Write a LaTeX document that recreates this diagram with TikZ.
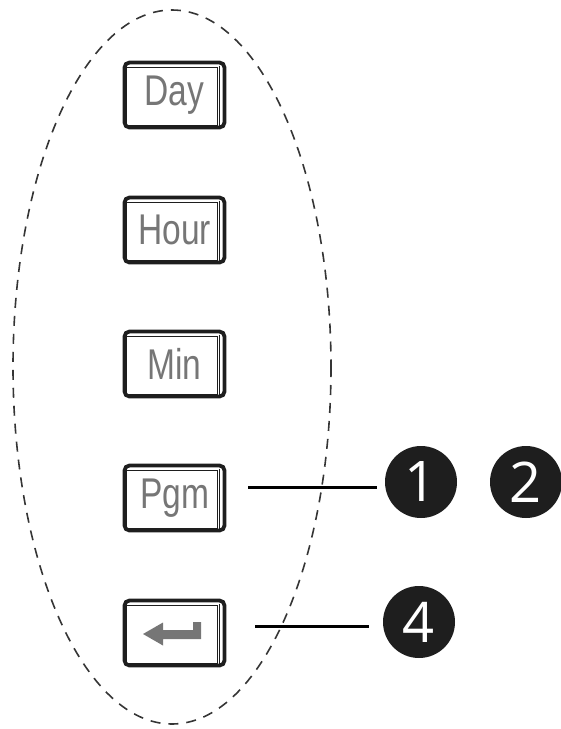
\documentclass[tikz,border=0pt]{standalone}
\usepackage{fontspec}
\newfontfamily\keyfont[FakeStretch=0.78]{Liberation Sans}
\newfontfamily\digitfont{Open Sans}
\definecolor{keygray}{HTML}{767676}
\definecolor{frame}{HTML}{1E1E1E}
\begin{document}
\begin{tikzpicture}[x=1pt,y=-1pt,
  key/.style={draw=frame, line width=3.8pt, rounded corners=5pt,
    minimum width=100pt, minimum height=65pt, inner sep=0pt,
    text=keygray, font=\keyfont\fontsize{43}{50}\selectfont,
    path picture={
      \draw[line width=1pt, sharp corners]
        ([xshift=2pt,yshift=-4.5pt]path picture bounding box.north west)
        rectangle ([xshift=-7.5pt,yshift=2pt]path picture bounding box.south east);
      \draw[line width=1pt]
        ([xshift=-5pt,yshift=-3pt]path picture bounding box.north east)
        -- ([xshift=-5pt]path picture bounding box.south east);
    }},
  badge/.style={circle, fill=frame, text=white, minimum size=72pt, inner sep=0pt,
    font=\digitfont\fontsize{56}{60}\selectfont},
  lead/.style={line width=3pt, draw=black},
  group/.style={draw=frame!90, dash pattern=on 10pt off 8pt, line width=1.6pt}
]
\useasboundingbox (0,0) rectangle (561,729);
\clip (0,0) rectangle (561,729);

% dashed grouping ellipse
\draw[group] (172,367) ellipse [x radius=159, y radius=357];

% keys
\node[key] (day)  at (174.5,95)  {Day};
\node[key] (hour) at (174.5,230) {Hour};
\node[key] (min)  at (174.5,364) {Min};
\node[key] (pgm)  at (174.5,498) {Pgm};
\node[key] (enter) at (174.5,633) {};
\fill[keygray, shift={(enter.center)}]
  (-31.5,1) -- (-11.5,-10.5) -- (-11.5,-3) -- (18.5,-3) -- (18.5,-11)
  -- (26.5,-11) -- (26.5,6) -- (-11.5,6) -- (-11.5,12.5) -- cycle;

% badges
\node[badge] (b1) at (421,482) {1};
\node[badge] (b2) at (526,482) {2};
\node[badge] (b4) at (419,622) {4};

% leader lines
\coordinate (l1s) at (248,487);
\coordinate (l1e) at (377,487);
\coordinate (l4s) at (255,626);
\coordinate (l4e) at (369,626);
\draw[lead] (l1s) -- (l1e);
\draw[lead] (l4s) -- (l4e);
\end{tikzpicture}
\end{document}
